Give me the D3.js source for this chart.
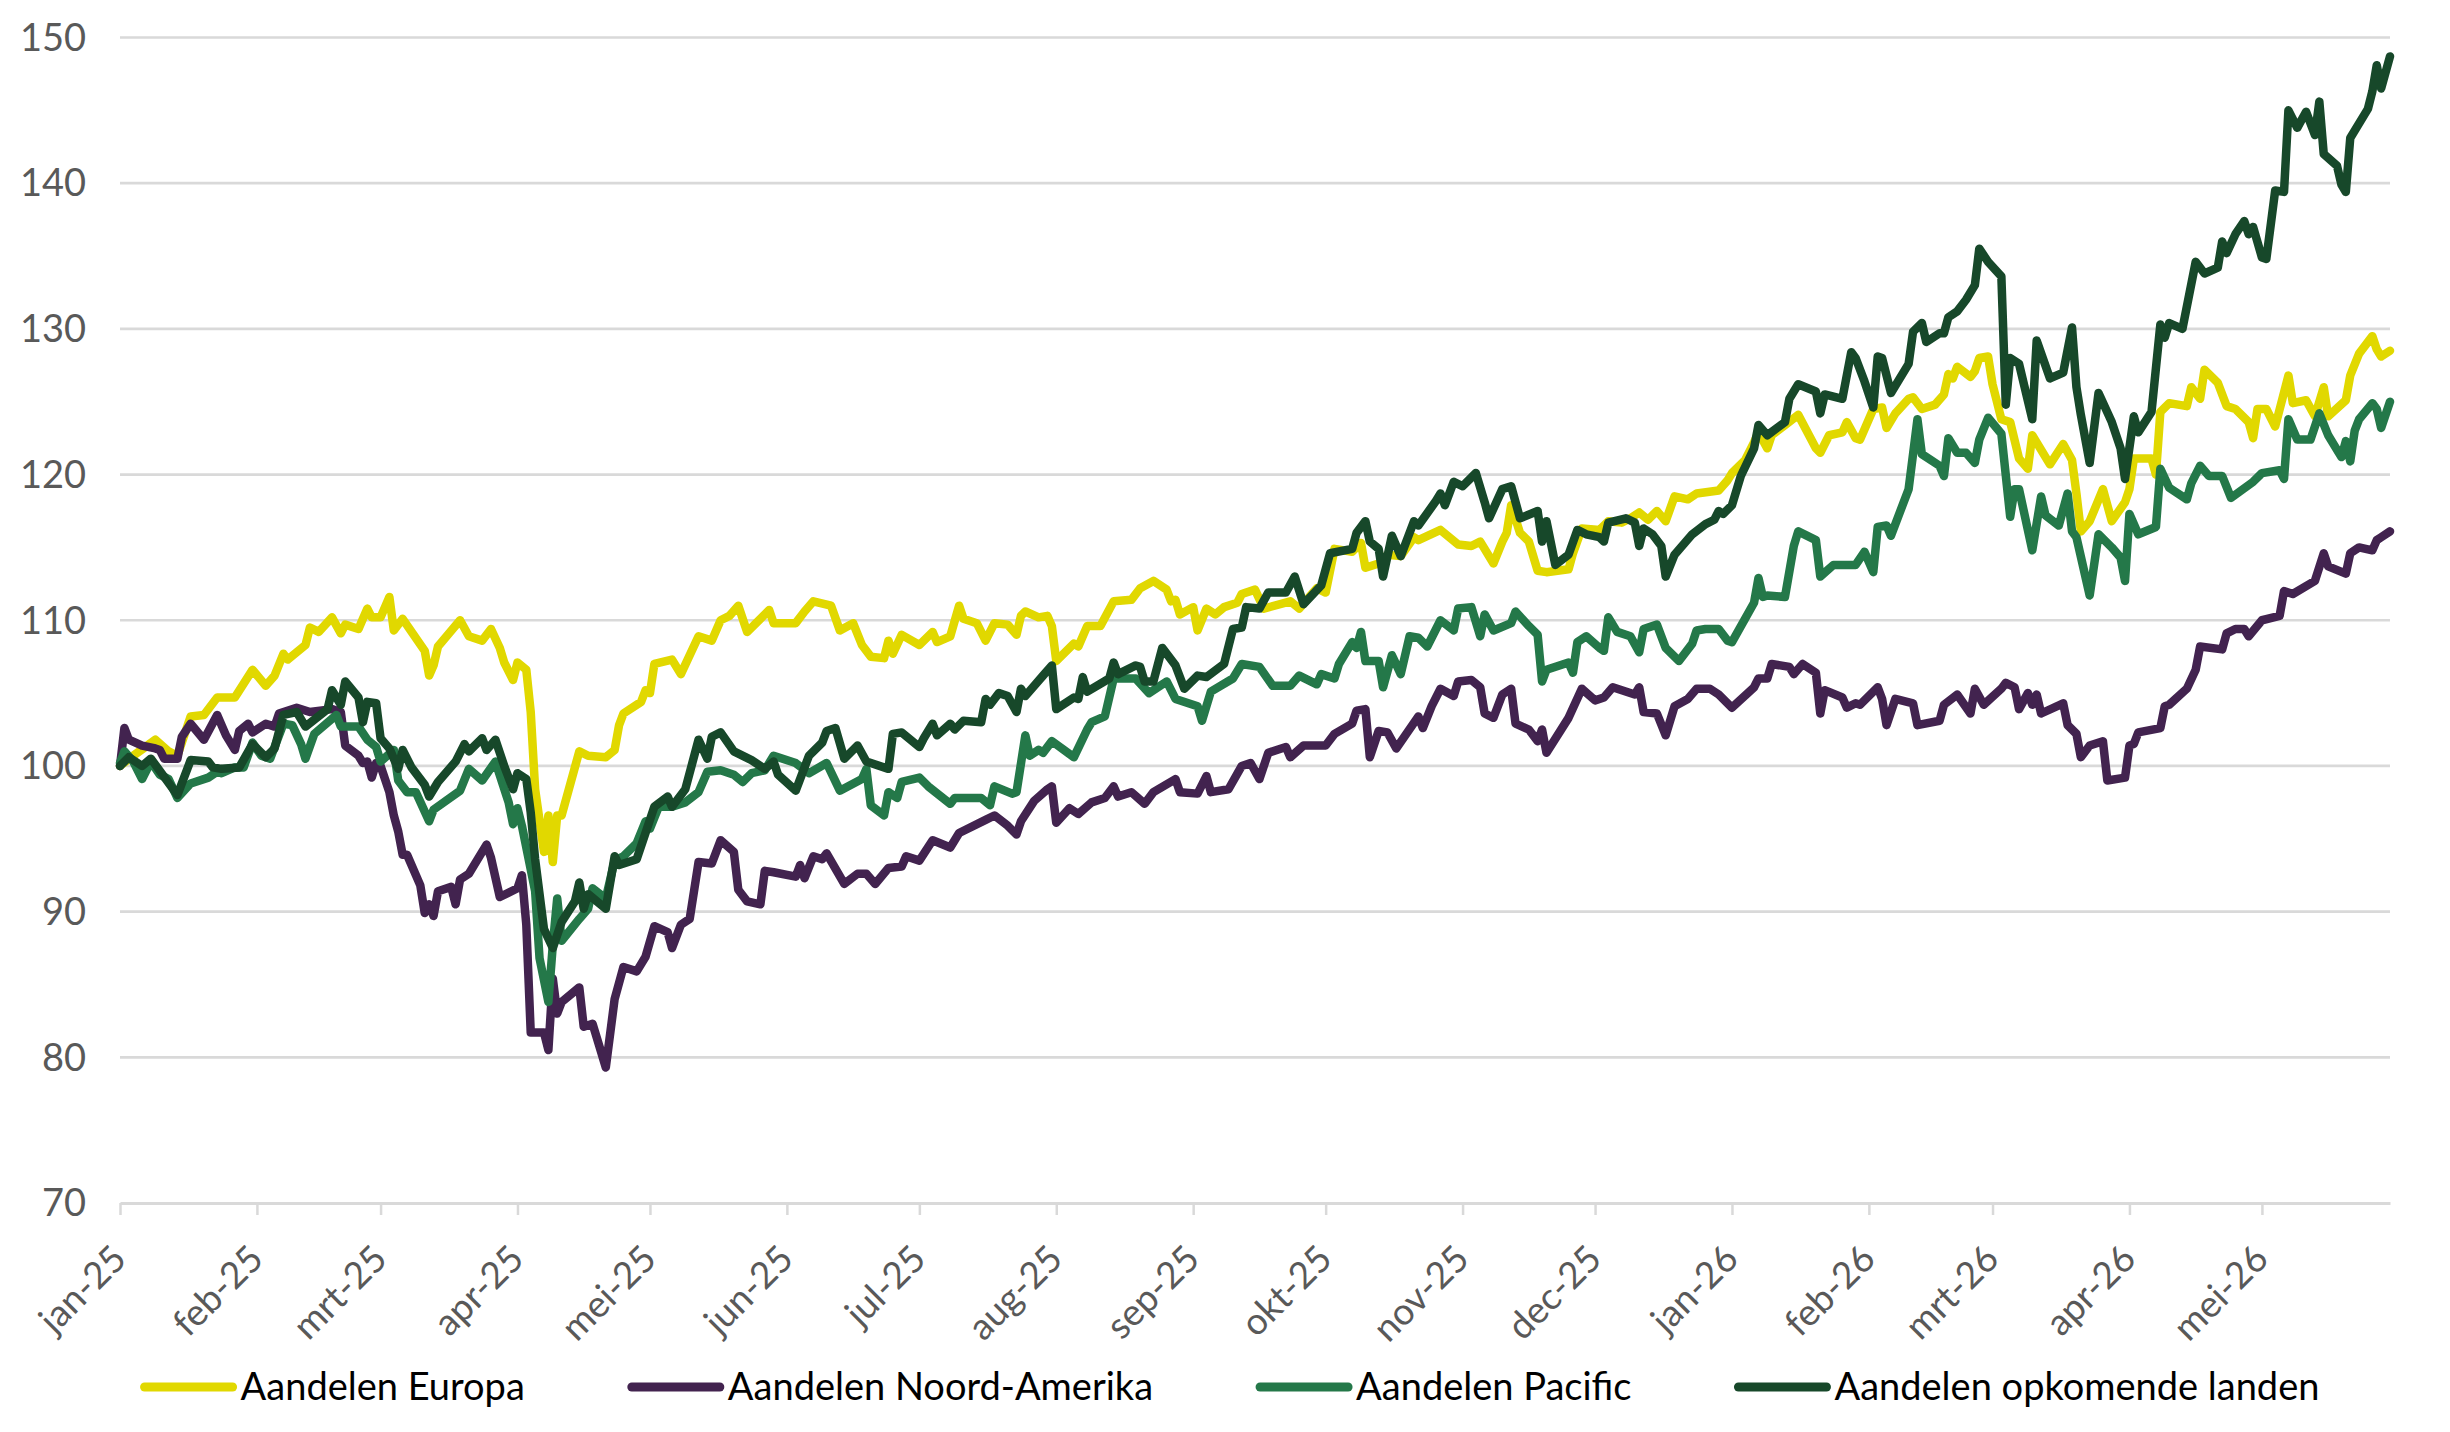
<!DOCTYPE html>
<html lang="nl">
<head>
<meta charset="UTF-8">
<title>Aandelen per regio</title>
<script src="https://d3js.org/d3.v7.min.js"></script>
<style>
  html, body { margin: 0; padding: 0; background: #fff; }
  svg { display: block; font-family: Lato, "Open Sans", sans-serif; }
</style>
</head>
<body>
<svg id="main" width="2450" height="1432"></svg>
<script>

// series names, in legend (and drawing) order
const seriesNames = ["Aandelen Europa", "Aandelen Noord-Amerika", "Aandelen Pacific", "Aandelen opkomende landen"];
const seriesColors = ["#e1d800", "#42234f", "#247849", "#17482a"];

const yTicks = [70, 80, 90, 100, 110, 120, 130, 140, 150];
const monthLabels = ["jan-25", "feb-25", "mrt-25", "apr-25", "mei-25", "jun-25", "jul-25", "aug-25", "sep-25",
  "okt-25", "nov-25", "dec-25", "jan-26", "feb-26", "mrt-26", "apr-26", "mei-26"];

// index values (start = 100)
const europa = [
  ["2025-01-01",100.0],["2025-01-04",100.7],["2025-01-09",101.8],["2025-01-12",101.0],["2025-01-14",100.7],
  ["2025-01-17",103.4],["2025-01-20",103.5],["2025-01-23",104.7],["2025-01-27",104.7],["2025-01-31",106.6],
  ["2025-02-03",105.5],["2025-02-05",106.2],["2025-02-07",107.7],["2025-02-08",107.3],["2025-02-12",108.3],
  ["2025-02-13",109.5],["2025-02-15",109.2],["2025-02-18",110.2],["2025-02-20",109.1],["2025-02-21",109.7],
  ["2025-02-24",109.4],["2025-02-26",110.8],["2025-02-27",110.2],["2025-03-01",110.2],["2025-03-03",111.6],
  ["2025-03-04",109.3],["2025-03-06",110.1],["2025-03-11",107.9],["2025-03-12",106.2],["2025-03-13",106.9],
  ["2025-03-14",108.2],["2025-03-19",110.0],["2025-03-21",108.9],["2025-03-24",108.6],["2025-03-26",109.4],
  ["2025-03-28",108.1],["2025-03-29",107.1],["2025-03-31",105.9],["2025-04-01",107.1],["2025-04-03",106.6],
  ["2025-04-04",103.7],["2025-04-05",98.4],["2025-04-07",94.1],["2025-04-08",96.6],["2025-04-09",93.4],
  ["2025-04-10",96.6],["2025-04-11",96.6],["2025-04-15",101.0],["2025-04-17",100.7],["2025-04-21",100.6],
  ["2025-04-23",101.1],["2025-04-24",102.8],["2025-04-25",103.6],["2025-04-29",104.4],["2025-04-30",105.2],
  ["2025-05-01",105.0],["2025-05-02",107.0],["2025-05-06",107.3],["2025-05-08",106.3],["2025-05-12",108.9],
  ["2025-05-15",108.6],["2025-05-17",110.0],["2025-05-19",110.3],["2025-05-21",111.0],["2025-05-23",109.2],
  ["2025-05-28",110.7],["2025-05-29",109.8],["2025-06-03",109.8],["2025-06-05",110.6],["2025-06-07",111.3],
  ["2025-06-11",111.0],["2025-06-13",109.3],["2025-06-16",109.8],["2025-06-18",108.3],["2025-06-20",107.5],
  ["2025-06-23",107.4],["2025-06-24",108.6],["2025-06-25",107.7],["2025-06-27",109.0],["2025-07-01",108.3],
  ["2025-07-04",109.2],["2025-07-05",108.5],["2025-07-08",108.9],["2025-07-10",111.0],["2025-07-11",110.1],
  ["2025-07-14",109.8],["2025-07-16",108.6],["2025-07-18",109.8],["2025-07-21",109.7],["2025-07-23",109.0],
  ["2025-07-24",110.3],["2025-07-25",110.6],["2025-07-28",110.2],["2025-07-30",110.3],["2025-07-31",109.6],
  ["2025-08-01",107.2],["2025-08-05",108.4],["2025-08-06",108.2],["2025-08-08",109.6],["2025-08-11",109.6],
  ["2025-08-14",111.3],["2025-08-18",111.4],["2025-08-20",112.2],["2025-08-23",112.7],["2025-08-26",112.1],
  ["2025-08-27",111.3],["2025-08-28",111.4],["2025-08-29",110.4],["2025-09-01",110.9],["2025-09-02",109.3],
  ["2025-09-04",110.8],["2025-09-06",110.4],["2025-09-08",110.9],["2025-09-11",111.2],["2025-09-12",111.8],
  ["2025-09-15",112.1],["2025-09-17",110.8],["2025-09-23",111.3],["2025-09-25",110.8],["2025-09-29",112.2],
  ["2025-10-01",111.9],["2025-10-03",114.9],["2025-10-07",114.7],["2025-10-09",115.3],["2025-10-10",113.6],
  ["2025-10-13",113.9],["2025-10-15",114.5],["2025-10-18",114.4],["2025-10-21",115.7],["2025-10-22",115.5],
  ["2025-10-27",116.2],["2025-10-31",115.2],["2025-11-03",115.1],["2025-11-05",115.4],["2025-11-08",113.9],
  ["2025-11-10",115.4],["2025-11-11",116.0],["2025-11-12",117.9],["2025-11-14",116.0],["2025-11-16",115.4],
  ["2025-11-18",113.4],["2025-11-20",113.3],["2025-11-25",113.5],["2025-11-26",114.6],["2025-11-28",116.3],
  ["2025-12-02",116.2],["2025-12-04",116.8],["2025-12-07",116.7],["2025-12-09",117.0],["2025-12-11",117.4],
  ["2025-12-13",116.9],["2025-12-15",117.5],["2025-12-17",116.8],["2025-12-19",118.5],["2025-12-22",118.3],
  ["2025-12-24",118.7],["2025-12-29",118.9],["2025-12-31",119.6],["2026-01-01",120.1],["2026-01-04",121.0],
  ["2026-01-06",122.2],["2026-01-07",122.9],["2026-01-09",121.8],["2026-01-10",122.7],["2026-01-13",123.4],
  ["2026-01-16",124.1],["2026-01-20",121.8],["2026-01-21",121.5],["2026-01-23",122.7],["2026-01-26",122.9],
  ["2026-01-27",123.6],["2026-01-29",122.5],["2026-01-30",122.4],["2026-02-02",124.5],["2026-02-04",124.6],
  ["2026-02-05",123.2],["2026-02-07",124.2],["2026-02-10",125.2],["2026-02-11",125.3],["2026-02-13",124.5],
  ["2026-02-16",124.8],["2026-02-18",125.5],["2026-02-19",126.9],["2026-02-20",126.6],["2026-02-21",127.4],
  ["2026-02-24",126.7],["2026-02-25",127.1],["2026-02-26",128.0],["2026-02-28",128.1],["2026-03-01",126.2],
  ["2026-03-03",123.8],["2026-03-05",123.6],["2026-03-07",121.1],["2026-03-09",120.4],["2026-03-10",122.7],
  ["2026-03-14",120.7],["2026-03-17",122.1],["2026-03-19",121.0],["2026-03-20",118.7],["2026-03-21",116.1],
  ["2026-03-23",116.8],["2026-03-26",119.0],["2026-03-28",116.8],["2026-03-31",118.1],["2026-04-01",119.0],
  ["2026-04-02",121.1],["2026-04-06",121.1],["2026-04-07",120.0],["2026-04-08",124.3],["2026-04-10",124.9],
  ["2026-04-14",124.7],["2026-04-15",126.0],["2026-04-17",125.2],["2026-04-18",127.2],["2026-04-21",126.3],
  ["2026-04-23",124.7],["2026-04-25",124.5],["2026-04-28",123.6],["2026-04-29",122.5],["2026-04-30",124.5],
  ["2026-05-02",124.5],["2026-05-04",123.3],["2026-05-07",126.8],["2026-05-08",124.9],["2026-05-11",125.1],
  ["2026-05-13",124.0],["2026-05-15",126.0],["2026-05-16",124.0],["2026-05-20",125.1],["2026-05-21",126.8],
  ["2026-05-23",128.3],["2026-05-26",129.5],["2026-05-27",128.6],["2026-05-28",128.1],["2026-05-30",128.5]
];

const noordAmerika = [
  ["2025-01-01",100.0],["2025-01-02",102.6],["2025-01-03",101.8],["2025-01-06",101.4],["2025-01-09",101.2],
  ["2025-01-10",101.1],["2025-01-11",100.5],["2025-01-14",100.5],["2025-01-15",102.0],["2025-01-17",102.9],
  ["2025-01-20",101.8],["2025-01-23",103.5],["2025-01-25",102.1],["2025-01-27",101.1],["2025-01-28",102.4],
  ["2025-01-30",102.9],["2025-01-31",102.3],["2025-02-03",102.9],["2025-02-05",102.7],["2025-02-06",103.6],
  ["2025-02-10",104.0],["2025-02-13",103.7],["2025-02-18",103.9],["2025-02-20",103.7],["2025-02-21",101.4],
  ["2025-02-24",100.7],["2025-02-25",100.2],["2025-02-26",100.3],["2025-02-27",99.2],["2025-02-28",100.2],
  ["2025-03-01",100.0],["2025-03-03",98.2],["2025-03-04",96.6],["2025-03-05",95.5],["2025-03-06",93.9],
  ["2025-03-07",93.9],["2025-03-10",91.8],["2025-03-11",89.9],["2025-03-12",90.5],["2025-03-13",89.7],
  ["2025-03-14",91.4],["2025-03-17",91.7],["2025-03-18",90.5],["2025-03-19",92.2],["2025-03-21",92.6],
  ["2025-03-25",94.6],["2025-03-26",93.7],["2025-03-28",91.0],["2025-04-01",91.6],["2025-04-02",92.5],
  ["2025-04-03",89.1],["2025-04-04",81.7],["2025-04-07",81.7],["2025-04-08",80.5],["2025-04-09",85.4],
  ["2025-04-10",83.0],["2025-04-11",83.8],["2025-04-15",84.8],["2025-04-16",82.1],["2025-04-18",82.3],
  ["2025-04-21",79.3],["2025-04-23",84.0],["2025-04-25",86.2],["2025-04-28",85.9],["2025-04-30",86.9],
  ["2025-05-02",89.0],["2025-05-05",88.6],["2025-05-06",87.5],["2025-05-08",89.1],["2025-05-10",89.5],
  ["2025-05-12",93.4],["2025-05-15",93.3],["2025-05-17",94.9],["2025-05-20",94.1],["2025-05-21",91.5],
  ["2025-05-23",90.7],["2025-05-26",90.5],["2025-05-27",92.8],["2025-05-29",92.7],["2025-06-03",92.4],
  ["2025-06-04",93.2],["2025-06-05",92.3],["2025-06-07",93.8],["2025-06-09",93.6],["2025-06-10",94.0],
  ["2025-06-14",91.9],["2025-06-17",92.6],["2025-06-19",92.6],["2025-06-21",91.9],["2025-06-24",93.0],
  ["2025-06-27",93.1],["2025-06-28",93.8],["2025-07-01",93.5],["2025-07-04",94.9],["2025-07-08",94.4],
  ["2025-07-10",95.4],["2025-07-16",96.3],["2025-07-18",96.6],["2025-07-21",95.9],["2025-07-23",95.3],
  ["2025-07-24",96.2],["2025-07-27",97.6],["2025-07-30",98.4],["2025-07-31",98.6],["2025-08-01",96.1],
  ["2025-08-04",97.1],["2025-08-06",96.7],["2025-08-09",97.5],["2025-08-12",97.8],["2025-08-14",98.6],
  ["2025-08-15",97.9],["2025-08-18",98.2],["2025-08-21",97.4],["2025-08-23",98.2],["2025-08-28",99.1],
  ["2025-08-29",98.2],["2025-09-02",98.1],["2025-09-04",99.3],["2025-09-05",98.2],["2025-09-09",98.4],
  ["2025-09-12",100.0],["2025-09-14",100.2],["2025-09-16",99.1],["2025-09-18",100.9],["2025-09-22",101.3],
  ["2025-09-23",100.6],["2025-09-26",101.4],["2025-10-01",101.4],["2025-10-03",102.2],["2025-10-07",102.9],
  ["2025-10-08",103.8],["2025-10-10",103.9],["2025-10-11",100.6],["2025-10-13",102.4],["2025-10-15",102.3],
  ["2025-10-17",101.2],["2025-10-22",103.4],["2025-10-23",102.6],["2025-10-25",104.1],["2025-10-27",105.3],
  ["2025-10-30",104.8],["2025-10-31",105.8],["2025-11-03",105.9],["2025-11-05",105.4],["2025-11-06",103.6],
  ["2025-11-08",103.3],["2025-11-10",104.9],["2025-11-12",105.3],["2025-11-13",102.9],["2025-11-16",102.5],
  ["2025-11-18",101.7],["2025-11-19",102.5],["2025-11-20",100.9],["2025-11-25",103.3],["2025-11-28",105.3],
  ["2025-12-01",104.5],["2025-12-03",104.7],["2025-12-05",105.4],["2025-12-10",104.9],["2025-12-11",105.4],
  ["2025-12-12",103.7],["2025-12-15",103.6],["2025-12-17",102.1],["2025-12-19",104.1],["2025-12-22",104.6],
  ["2025-12-24",105.3],["2025-12-27",105.3],["2025-12-29",104.9],["2026-01-01",104.0],["2026-01-06",105.4],
  ["2026-01-07",106.0],["2026-01-09",106.0],["2026-01-10",107.0],["2026-01-14",106.8],["2026-01-15",106.3],
  ["2026-01-17",107.0],["2026-01-20",106.4],["2026-01-21",103.6],["2026-01-22",105.2],["2026-01-26",104.7],
  ["2026-01-27",104.0],["2026-01-29",104.3],["2026-01-30",104.2],["2026-02-03",105.4],["2026-02-04",104.6],
  ["2026-02-05",102.8],["2026-02-07",104.6],["2026-02-11",104.3],["2026-02-12",102.8],["2026-02-17",103.1],
  ["2026-02-18",104.2],["2026-02-21",104.9],["2026-02-24",103.6],["2026-02-25",105.3],["2026-02-27",104.2],
  ["2026-03-03",105.3],["2026-03-04",105.7],["2026-03-06",105.4],["2026-03-07",103.9],["2026-03-09",105.0],
  ["2026-03-10",104.2],["2026-03-11",104.9],["2026-03-12",103.6],["2026-03-17",104.3],["2026-03-18",102.8],
  ["2026-03-20",102.2],["2026-03-21",100.6],["2026-03-23",101.4],["2026-03-26",101.7],["2026-03-27",99.0],
  ["2026-03-31",99.2],["2026-04-01",101.4],["2026-04-02",101.5],["2026-04-03",102.3],["2026-04-08",102.6],
  ["2026-04-09",104.1],["2026-04-10",104.2],["2026-04-14",105.3],["2026-04-16",106.6],["2026-04-17",108.2],
  ["2026-04-22",108.0],["2026-04-23",109.1],["2026-04-25",109.4],["2026-04-27",109.4],["2026-04-28",108.9],
  ["2026-05-01",110.0],["2026-05-05",110.3],["2026-05-06",112.0],["2026-05-08",111.8],["2026-05-13",112.7],
  ["2026-05-15",114.6],["2026-05-16",113.7],["2026-05-20",113.2],["2026-05-21",114.6],["2026-05-23",115.0],
  ["2026-05-26",114.8],["2026-05-27",115.5],["2026-05-28",115.7],["2026-05-30",116.1]
];

const pacific = [
  ["2025-01-01",100.2],["2025-01-02",101.0],["2025-01-04",100.3],["2025-01-06",99.1],["2025-01-08",100.3],
  ["2025-01-10",99.4],["2025-01-12",99.1],["2025-01-14",97.8],["2025-01-17",98.8],["2025-01-21",99.2],
  ["2025-01-23",99.6],["2025-01-24",99.5],["2025-01-27",99.9],["2025-01-29",99.9],["2025-01-31",101.6],
  ["2025-02-02",100.7],["2025-02-04",100.5],["2025-02-07",102.9],["2025-02-09",102.8],["2025-02-11",101.5],
  ["2025-02-12",100.5],["2025-02-14",102.2],["2025-02-19",103.5],["2025-02-20",102.7],["2025-02-24",102.7],
  ["2025-02-26",101.8],["2025-02-28",101.3],["2025-03-01",100.3],["2025-03-04",101.1],["2025-03-05",99.0],
  ["2025-03-07",98.2],["2025-03-09",98.2],["2025-03-12",96.2],["2025-03-13",97.0],["2025-03-19",98.3],
  ["2025-03-21",99.8],["2025-03-24",99.0],["2025-03-27",100.3],["2025-03-30",97.5],["2025-03-31",96.0],
  ["2025-04-01",97.1],["2025-04-02",95.9],["2025-04-05",91.4],["2025-04-06",86.8],["2025-04-08",83.8],
  ["2025-04-09",87.7],["2025-04-10",90.9],["2025-04-11",88.0],["2025-04-15",89.5],["2025-04-17",90.2],
  ["2025-04-18",91.6],["2025-04-21",90.9],["2025-04-23",93.5],["2025-04-25",93.8],["2025-04-28",94.7],
  ["2025-04-30",96.2],["2025-05-01",95.7],["2025-05-03",97.2],["2025-05-06",97.2],["2025-05-09",97.5],
  ["2025-05-12",98.2],["2025-05-14",99.6],["2025-05-17",99.7],["2025-05-20",99.4],["2025-05-22",98.9],
  ["2025-05-24",99.5],["2025-05-27",99.7],["2025-05-29",100.7],["2025-06-03",100.2],["2025-06-06",99.5],
  ["2025-06-10",100.2],["2025-06-13",98.3],["2025-06-18",99.1],["2025-06-19",99.8],["2025-06-20",97.3],
  ["2025-06-23",96.6],["2025-06-24",98.2],["2025-06-26",97.8],["2025-06-27",98.9],["2025-07-01",99.2],
  ["2025-07-03",98.6],["2025-07-08",97.4],["2025-07-09",97.8],["2025-07-15",97.8],["2025-07-17",97.3],
  ["2025-07-18",98.6],["2025-07-22",98.1],["2025-07-23",98.2],["2025-07-25",102.1],["2025-07-26",100.7],
  ["2025-07-28",101.1],["2025-07-29",100.9],["2025-07-31",101.7],["2025-08-05",100.6],["2025-08-08",102.5],
  ["2025-08-09",103.0],["2025-08-12",103.4],["2025-08-14",106.0],["2025-08-19",106.0],["2025-08-22",105.0],
  ["2025-08-26",105.8],["2025-08-28",104.6],["2025-09-02",104.1],["2025-09-03",103.1],["2025-09-05",105.1],
  ["2025-09-10",106.0],["2025-09-12",107.0],["2025-09-16",106.8],["2025-09-19",105.5],["2025-09-23",105.5],
  ["2025-09-25",106.2],["2025-09-29",105.6],["2025-09-30",106.3],["2025-10-03",106.0],["2025-10-04",107.0],
  ["2025-10-07",108.5],["2025-10-08",108.1],["2025-10-09",109.2],["2025-10-10",107.2],["2025-10-13",107.2],
  ["2025-10-14",105.4],["2025-10-16",107.6],["2025-10-18",106.3],["2025-10-20",108.9],["2025-10-22",108.8],
  ["2025-10-24",108.2],["2025-10-27",110.0],["2025-10-30",109.3],["2025-10-31",110.8],["2025-11-03",110.9],
  ["2025-11-05",108.9],["2025-11-06",110.4],["2025-11-08",109.3],["2025-11-12",109.8],["2025-11-13",110.6],
  ["2025-11-16",109.6],["2025-11-18",109.0],["2025-11-19",105.8],["2025-11-20",106.6],["2025-11-25",107.1],
  ["2025-11-26",106.4],["2025-11-27",108.5],["2025-11-29",108.9],["2025-12-02",108.1],["2025-12-03",107.9],
  ["2025-12-04",110.2],["2025-12-06",109.2],["2025-12-09",108.9],["2025-12-11",107.8],["2025-12-12",109.4],
  ["2025-12-15",109.7],["2025-12-17",108.1],["2025-12-20",107.2],["2025-12-23",108.4],["2025-12-24",109.3],
  ["2025-12-26",109.4],["2025-12-29",109.4],["2025-12-31",108.6],["2026-01-01",108.5],["2026-01-06",111.2],
  ["2026-01-07",112.9],["2026-01-08",111.6],["2026-01-09",111.7],["2026-01-13",111.6],["2026-01-15",115.1],
  ["2026-01-16",116.1],["2026-01-20",115.5],["2026-01-21",113.0],["2026-01-24",113.8],["2026-01-27",113.8],
  ["2026-01-29",113.8],["2026-01-31",114.7],["2026-02-02",113.3],["2026-02-03",116.4],["2026-02-05",116.5],
  ["2026-02-06",115.8],["2026-02-10",119.0],["2026-02-11",121.4],["2026-02-12",123.8],["2026-02-13",121.4],
  ["2026-02-17",120.6],["2026-02-18",119.9],["2026-02-19",122.5],["2026-02-21",121.5],["2026-02-23",121.5],
  ["2026-02-25",120.8],["2026-02-26",122.4],["2026-02-28",123.9],["2026-03-03",122.8],["2026-03-05",117.1],
  ["2026-03-06",119.0],["2026-03-07",119.0],["2026-03-10",114.8],["2026-03-12",118.5],["2026-03-13",117.2],
  ["2026-03-16",116.5],["2026-03-18",118.7],["2026-03-19",116.1],["2026-03-20",115.7],["2026-03-23",111.7],
  ["2026-03-25",115.9],["2026-03-28",115.0],["2026-03-30",114.3],["2026-03-31",112.7],["2026-04-01",117.3],
  ["2026-04-03",115.9],["2026-04-07",116.4],["2026-04-08",120.4],["2026-04-10",119.1],["2026-04-14",118.3],
  ["2026-04-15",119.4],["2026-04-17",120.6],["2026-04-19",119.9],["2026-04-22",119.9],["2026-04-24",118.4],
  ["2026-04-29",119.5],["2026-05-01",120.1],["2026-05-05",120.3],["2026-05-06",119.7],["2026-05-07",123.8],
  ["2026-05-09",122.4],["2026-05-12",122.4],["2026-05-14",124.2],["2026-05-16",122.7],["2026-05-19",121.2],
  ["2026-05-20",122.3],["2026-05-21",120.9],["2026-05-22",123.0],["2026-05-23",123.8],["2026-05-26",124.9],
  ["2026-05-27",124.5],["2026-05-28",123.2],["2026-05-30",125.0]
];

const opkomend = [
  ["2025-01-01",100.0],["2025-01-03",100.6],["2025-01-06",100.0],["2025-01-08",100.5],["2025-01-14",98.0],
  ["2025-01-17",100.4],["2025-01-21",100.3],["2025-01-22",99.9],["2025-01-24",99.8],["2025-01-28",99.9],
  ["2025-01-31",101.5],["2025-02-03",100.6],["2025-02-05",101.2],["2025-02-07",103.5],["2025-02-10",103.7],
  ["2025-02-12",102.7],["2025-02-17",103.9],["2025-02-18",105.2],["2025-02-20",104.2],["2025-02-21",105.8],
  ["2025-02-24",104.7],["2025-02-25",103.0],["2025-02-26",104.4],["2025-02-28",104.3],["2025-03-01",101.9],
  ["2025-03-03",101.2],["2025-03-05",99.8],["2025-03-06",101.1],["2025-03-08",99.9],["2025-03-11",98.7],
  ["2025-03-12",97.9],["2025-03-14",98.9],["2025-03-18",100.3],["2025-03-20",101.5],["2025-03-21",101.0],
  ["2025-03-24",101.9],["2025-03-25",101.1],["2025-03-27",101.8],["2025-03-29",100.0],["2025-03-31",98.4],
  ["2025-04-01",99.5],["2025-04-03",99.1],["2025-04-04",96.8],["2025-04-05",93.6],["2025-04-07",88.8],
  ["2025-04-09",87.5],["2025-04-11",89.3],["2025-04-14",90.7],["2025-04-15",92.0],["2025-04-16",90.2],
  ["2025-04-17",91.2],["2025-04-21",90.2],["2025-04-23",93.8],["2025-04-24",93.2],["2025-04-28",93.6],
  ["2025-04-30",95.4],["2025-05-02",97.2],["2025-05-05",97.9],["2025-05-06",97.2],["2025-05-09",98.4],
  ["2025-05-12",101.8],["2025-05-14",100.5],["2025-05-15",102.0],["2025-05-17",102.3],["2025-05-20",101.0],
  ["2025-05-24",100.4],["2025-05-27",99.8],["2025-05-29",100.3],["2025-05-30",99.4],["2025-06-03",98.3],
  ["2025-06-06",100.7],["2025-06-09",101.6],["2025-06-10",102.4],["2025-06-12",102.6],["2025-06-14",100.5],
  ["2025-06-17",101.4],["2025-06-19",100.3],["2025-06-24",99.8],["2025-06-25",102.2],["2025-06-27",102.3],
  ["2025-07-01",101.3],["2025-07-02",101.9],["2025-07-04",102.9],["2025-07-05",102.1],["2025-07-08",102.9],
  ["2025-07-09",102.5],["2025-07-11",103.1],["2025-07-15",103.0],["2025-07-16",104.6],["2025-07-17",104.2],
  ["2025-07-19",105.0],["2025-07-21",104.8],["2025-07-23",103.7],["2025-07-24",105.3],["2025-07-25",104.8],
  ["2025-07-29",106.2],["2025-07-31",106.9],["2025-08-01",103.9],["2025-08-05",104.7],["2025-08-06",104.6],
  ["2025-08-07",106.1],["2025-08-08",105.1],["2025-08-13",106.0],["2025-08-14",107.1],["2025-08-15",106.3],
  ["2025-08-19",106.9],["2025-08-20",106.8],["2025-08-21",105.8],["2025-08-23",105.8],["2025-08-25",108.1],
  ["2025-08-28",106.9],["2025-08-30",105.3],["2025-09-02",106.2],["2025-09-04",106.1],["2025-09-08",107.0],
  ["2025-09-10",109.4],["2025-09-12",109.5],["2025-09-13",110.9],["2025-09-16",110.8],["2025-09-18",111.9],
  ["2025-09-22",111.9],["2025-09-24",113.0],["2025-09-26",111.1],["2025-09-30",112.4],["2025-10-02",114.6],
  ["2025-10-07",114.9],["2025-10-08",116.0],["2025-10-10",116.8],["2025-10-11",115.4],["2025-10-13",114.9],
  ["2025-10-14",113.0],["2025-10-16",115.8],["2025-10-18",114.4],["2025-10-21",116.8],["2025-10-22",116.5],
  ["2025-10-26",118.2],["2025-10-27",118.7],["2025-10-28",117.9],["2025-10-30",119.5],["2025-11-01",119.2],
  ["2025-11-04",120.1],["2025-11-06",118.1],["2025-11-07",117.0],["2025-11-10",119.0],["2025-11-12",119.2],
  ["2025-11-14",117.0],["2025-11-18",117.5],["2025-11-19",115.4],["2025-11-20",116.8],["2025-11-22",113.8],
  ["2025-11-25",114.5],["2025-11-27",116.2],["2025-11-29",115.9],["2025-12-02",115.7],["2025-12-03",115.4],
  ["2025-12-04",116.7],["2025-12-08",117.0],["2025-12-10",116.7],["2025-12-11",115.1],["2025-12-12",116.3],
  ["2025-12-14",115.9],["2025-12-16",115.1],["2025-12-17",113.0],["2025-12-19",114.5],["2025-12-23",115.9],
  ["2025-12-26",116.6],["2025-12-28",116.9],["2025-12-29",117.5],["2025-12-30",117.3],["2026-01-01",117.9],
  ["2026-01-03",119.9],["2026-01-06",121.8],["2026-01-07",123.4],["2026-01-09",122.7],["2026-01-13",123.6],
  ["2026-01-14",125.2],["2026-01-16",126.2],["2026-01-20",125.7],["2026-01-21",124.2],["2026-01-22",125.5],
  ["2026-01-26",125.2],["2026-01-28",128.4],["2026-01-29",128.0],["2026-01-31",126.4],["2026-02-02",124.6],
  ["2026-02-03",128.1],["2026-02-04",128.0],["2026-02-06",125.6],["2026-02-10",127.6],["2026-02-11",129.8],
  ["2026-02-13",130.4],["2026-02-14",129.1],["2026-02-17",129.7],["2026-02-18",129.7],["2026-02-19",130.8],
  ["2026-02-21",131.2],["2026-02-23",132.0],["2026-02-25",133.0],["2026-02-26",135.5],["2026-02-28",134.6],
  ["2026-03-03",133.6],["2026-03-04",124.8],["2026-03-05",128.0],["2026-03-07",127.6],["2026-03-10",123.8],
  ["2026-03-11",129.2],["2026-03-14",126.6],["2026-03-17",127.0],["2026-03-19",130.1],["2026-03-20",126.0],
  ["2026-03-21",124.1],["2026-03-23",120.8],["2026-03-25",125.6],["2026-03-28",123.6],["2026-03-30",121.8],
  ["2026-03-31",119.7],["2026-04-02",124.0],["2026-04-03",122.9],["2026-04-06",124.3],["2026-04-08",130.3],
  ["2026-04-09",129.4],["2026-04-10",130.4],["2026-04-13",130.0],["2026-04-16",134.6],["2026-04-18",133.8],
  ["2026-04-21",134.2],["2026-04-22",136.0],["2026-04-23",135.2],["2026-04-25",136.5],["2026-04-27",137.4],
  ["2026-04-28",136.5],["2026-04-29",137.0],["2026-05-01",134.9],["2026-05-02",134.8],["2026-05-04",139.5],
  ["2026-05-06",139.4],["2026-05-07",145.0],["2026-05-09",143.8],["2026-05-11",144.9],["2026-05-13",143.3],
  ["2026-05-14",145.6],["2026-05-15",142.0],["2026-05-18",141.2],["2026-05-19",139.9],["2026-05-20",139.4],
  ["2026-05-21",143.1],["2026-05-25",145.1],["2026-05-26",146.3],["2026-05-27",148.1],["2026-05-28",146.5],
  ["2026-05-30",148.7]
];

const allSeries = [europa, noordAmerika, pacific, opkomend];

const parseDate = d3.utcParse("%Y-%m-%d");
const svg = d3.select("svg#main");

const plotLeft = 120, plotRight = 2390, plotTop = 37.5, plotBottom = 1203;

const firstDate = parseDate(europa[0][0]);
const lastDate = parseDate(europa[europa.length - 1][0]);

const x = d3.scaleUtc().domain([firstDate, lastDate]).range([plotLeft, plotRight]);
const y = d3.scaleLinear().domain([70, 150]).range([plotBottom, plotTop]);

// horizontal gridlines
svg.append("g")
  .selectAll("line")
  .data(yTicks.filter(t => t > 70))
  .join("line")
  .attr("x1", plotLeft).attr("x2", plotRight)
  .attr("y1", d => y(d)).attr("y2", d => y(d))
  .attr("stroke", "#d9d9d9")
  .attr("stroke-width", 2.7);

// y labels
svg.append("g")
  .selectAll("text")
  .data(yTicks)
  .join("text")
  .attr("x", 86)
  .attr("y", d => y(d))
  .attr("dy", "0.35em")
  .attr("text-anchor", "end")
  .attr("fill", "#595959")
  .style("font-size", "38px")
  .text(d => d);

// x axis with month ticks
const tickDates = d3.utcMonth.range(firstDate, d3.utcDay.offset(lastDate, 1));
const xAxis = d3.axisBottom(x)
  .tickValues(tickDates)
  .tickFormat((d, i) => monthLabels[i])
  .tickSize(12)
  .tickSizeOuter(0);

const gx = svg.append("g")
  .attr("transform", `translate(0,${plotBottom})`)
  .call(xAxis);

gx.select(".domain").attr("stroke", "#d9d9d9").attr("stroke-width", 3);
gx.selectAll(".tick line").attr("stroke", "#d9d9d9").attr("stroke-width", 2.5);
gx.selectAll(".tick text")
  .attr("x", null).attr("y", null).attr("dy", null)
  .attr("transform", "translate(8,58) rotate(-45)")
  .attr("text-anchor", "end")
  .attr("fill", "#595959")
  .style("font-family", "Lato, 'Open Sans', sans-serif")
  .style("font-size", "37px");

// lines
const line = d3.line()
  .x(d => x(parseDate(d[0])))
  .y(d => y(d[1]));

svg.append("g")
  .selectAll("path")
  .data(allSeries)
  .join("path")
  .attr("d", line)
  .attr("fill", "none")
  .attr("stroke", (d, i) => seriesColors[i])
  .attr("stroke-width", 8.5)
  .attr("stroke-linejoin", "round")
  .attr("stroke-linecap", "round");

// legend
const legendY = 1387;
const legend = svg.append("g");
const items = legend.selectAll("g")
  .data(seriesNames)
  .join("g");

items.append("line")
  .attr("x1", 4).attr("x2", 92)
  .attr("y1", 0).attr("y2", 0)
  .attr("stroke", (d, i) => seriesColors[i])
  .attr("stroke-width", 9)
  .attr("stroke-linecap", "round");

items.append("text")
  .attr("x", 100)
  .attr("y", 0)
  .attr("dy", "0.35em")
  .attr("fill", "#000")
  .style("font-size", "38px")
  .text(d => d);

let widths = [];
items.each(function() {
  widths.push(100 + d3.select(this).select("text").node().getComputedTextLength());
});
const gap = 103;
const total = d3.sum(widths) + gap * (widths.length - 1);
let cursor = 1230 - total / 2;
items.attr("transform", (d, i) => {
  const tx = cursor;
  cursor += widths[i] + gap;
  return `translate(${tx},${legendY})`;
});

</script>
</body>
</html>
